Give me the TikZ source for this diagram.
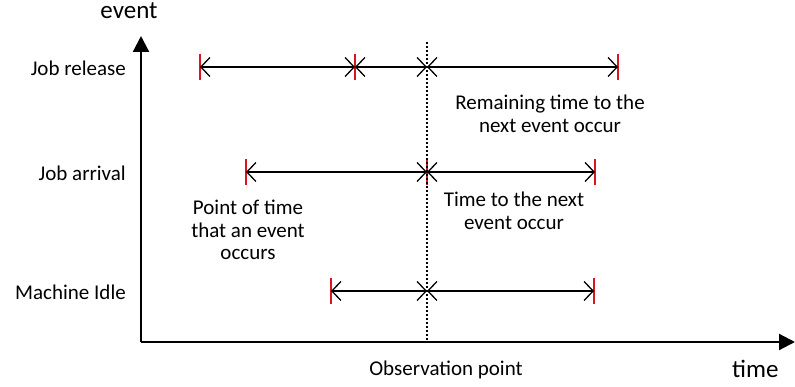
\documentclass[tikz,border=0pt]{standalone}
\usepackage{fontspec}
\setmainfont{Carlito}
\usetikzlibrary{arrows.meta}
\begin{document}
\begin{tikzpicture}[x=1pt,y=-1pt,
  seg/.style={line width=1.3pt,
    {Straight Barb[length=9pt,width=19pt]}-{Straight Barb[length=9pt,width=19pt]}},
  redtick/.style={draw={rgb,255:red,220;green,20;blue,30}, line width=2pt},
  axis/.style={line width=2.2pt},
  obs/.style={line width=1.2pt, dash pattern=on 2pt off 2pt},
  lbl/.style={font=\fontsize{21}{22.5}\selectfont, inner sep=0pt, align=center},
  big/.style={font=\fontsize{25}{27}\selectfont, inner sep=0pt},
]
\useasboundingbox (0,0) rectangle (795,387);

% axes
\coordinate (O) at (141,342);
\coordinate (ytop) at (141,36);
\coordinate (xend) at (795,342);
\draw[axis,-{Triangle[length=16pt,width=16pt]}] (O) -- (ytop);
\draw[axis,-{Triangle[length=16pt,width=16pt]}] (O) -- (xend);
\node[big, anchor=base] (ev) at (129,19) {event};
\node[big, anchor=base west] (tm) at (732,377) {time};

% event labels
\node[lbl, anchor=base east] (jr) at (126,76) {Job release};
\node[lbl, anchor=base east] (ja) at (126,181) {Job arrival};
\node[lbl, anchor=base east] (mi) at (126,300) {Machine Idle};

% points
\coordinate (a1) at (200,67);  \coordinate (a2) at (355,67);
\coordinate (a3) at (427,67);  \coordinate (a4) at (618,67);
\coordinate (b1) at (246,172); \coordinate (b2) at (427,172);
\coordinate (b3) at (595,172);
\coordinate (c1) at (331,291); \coordinate (c2) at (427,291);
\coordinate (c3) at (594,291);

% red ticks
\foreach \p in {a1,a2,a4,b1,b2,b3,c1,c3}
  \draw[redtick] ([yshift=-13pt]\p) -- ([yshift=13pt]\p);

% intervals
\draw[seg] (a1) -- (a2);
\draw[seg] (a2) -- (a3);
\draw[seg] (a3) -- (a4);
\draw[seg] (b1) -- (b2);
\draw[seg] (b2) -- (b3);
\draw[seg] (c1) -- (c2);
\draw[seg] (c2) -- (c3);

% observation line
\coordinate (otop) at (427,42);
\coordinate (obot) at (427,342);
\draw[obs] (otop) -- (obot);
\node[lbl, anchor=base] (op) at (446,375) {Observation point};

% annotations
\node[lbl, anchor=north] (rem) at (550,95) {Remaining time to the\\next event occur};
\node[lbl, anchor=north] (ttn) at (514,192) {Time to the next\\event occur};
\node[lbl, anchor=north] (pot) at (248,200) {Point of time\\that an event\\occurs};
\end{tikzpicture}
\end{document}
